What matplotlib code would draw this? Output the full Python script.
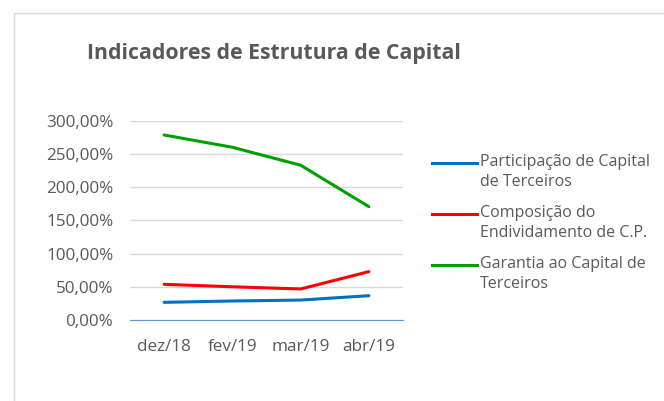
import matplotlib.pyplot as plt
from matplotlib.lines import Line2D
from matplotlib.patches import Rectangle
from matplotlib.ticker import FuncFormatter

meses = ['dez/18', 'fev/19', 'mar/19', 'abr/19']
participacao = [26.6, 28.6, 30.0, 36.6]
composicao = [53.7, 50.0, 46.7, 72.8]
garantia = [278.5, 260.0, 233.0, 170.6]

nomes = ['Participação de Capital\nde Terceiros',
         'Composição do\nEndividamento de C.P.',
         'Garantia ao Capital de\nTerceiros']
cores = ['#0070C0', '#FF0000', '#00A000']

plt.rcParams['font.family'] = ['Open Sans', 'DejaVu Sans']
cinza = '#595959'
W, H = 664, 401

fig = plt.figure(figsize=(6.64, 4.01), dpi=100)
fig.patches.append(Rectangle((14/W, -0.1), 1.0, 1 - 13/H + 0.1, transform=fig.transFigure,
                             fill=False, edgecolor='#D9D9D9', linewidth=1))
ax = fig.add_axes([130/W, 1 - 320/H, 273/W, (320 - 120.7)/H])

x = range(len(meses))
for serie, nome, cor in zip([participacao, composicao, garantia], nomes, cores):
    ax.plot(x, serie, color=cor, linewidth=2.2, label=nome, solid_capstyle='round')

ax.set_xlim(-0.5, 3.5)
ax.set_ylim(0, 300)
ax.set_yticks(range(0, 301, 50))
ax.yaxis.set_major_formatter(FuncFormatter(lambda v, p: f'{v:.2f}%'.replace('.', ',')))
ax.set_xticks(list(x))
ax.set_xticklabels(meses)
ax.grid(axis='y', color='#D9D9D9', linewidth=1)
ax.set_axisbelow(True)
for s in ['top', 'right', 'left']:
    ax.spines[s].set_visible(False)
ax.spines['bottom'].set_color('#5B9BD5')
ax.tick_params(length=0, labelsize=12.3, colors=cinza)
ax.tick_params(axis='x', pad=14)
ax.tick_params(axis='y', pad=12)

fig.text(274/W, 1 - 53/H, 'Indicadores de Estrutura de Capital', ha='center', va='center',
         fontsize=15.3, fontweight='bold', color=cinza)

# legenda manual: traço alinhado com a primeira linha do texto
for i, (nome, cor) in enumerate(zip(nomes, cores)):
    y = 1 - (163 + 51 * i) / H
    fig.lines.append(Line2D([432/W, 477/W], [y, y], transform=fig.transFigure,
                            color=cor, linewidth=2.2))
    fig.text(480/W, y + 9/H, nome, ha='left', va='top', fontsize=11.5, color=cinza,
             linespacing=1.3)

fig.savefig('out.png', dpi=100)
